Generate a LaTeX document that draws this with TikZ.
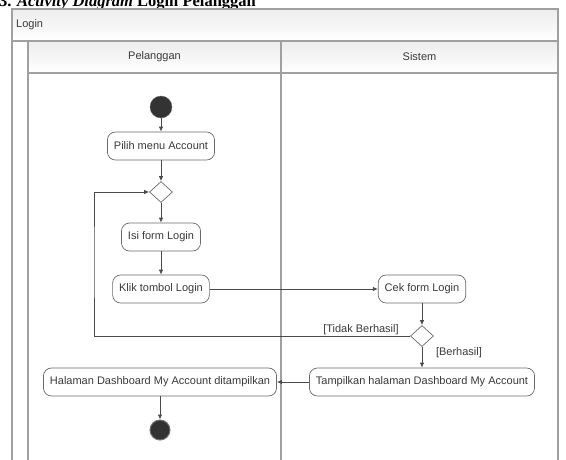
\documentclass[tikz,border=0pt]{standalone}
\usepackage{fontspec}
\newfontfamily\uifont{Liberation Sans}
\newfontfamily\capfont{Liberation Serif}
\usetikzlibrary{arrows.meta,shapes.geometric}

\definecolor{frameline}{HTML}{A0A0A0}
\definecolor{flowline}{HTML}{4A4A4A}
\definecolor{boxline}{HTML}{6A6A6A}
\definecolor{uitext}{HTML}{3A3A3A}
\definecolor{headfill}{HTML}{EDEDED}

\tikzset{
  frame/.style={draw=frameline, line width=1.1pt},
  band/.style={frame, top color=headfill, bottom color=white},
  action/.style={draw=boxline, line width=0.7pt, rounded corners=8pt, fill=white,
    font=\uifont\fontsize{11}{12}\selectfont, text=uitext,
    inner xsep=6.5pt, inner ysep=0pt, minimum height=28pt},
  decision/.style={draw=boxline, line width=0.7pt, diamond, fill=white,
    minimum width=23pt, minimum height=21pt, inner sep=0pt},
  startnode/.style={circle, fill=black!80, draw=black!60, minimum size=22pt, inner sep=0pt},
  endnode/.style={circle, fill=black!80, draw=black!55, line width=1pt, minimum size=20pt, inner sep=0pt},
  flow/.style={draw=flowline, line width=0.8pt, -{Latex[length=5pt,width=4.5pt]}},
  guard/.style={font=\uifont\fontsize{11}{12}\selectfont, text=uitext, inner sep=0pt},
  lanetitle/.style={font=\uifont\fontsize{11}{12}\selectfont, text=uitext, inner sep=0pt}
}

\begin{document}
\begin{tikzpicture}[x=1pt,y=-1pt]
\useasboundingbox (0,0) rectangle (566,459);
\clip (0,0) rectangle (566,459);

% caption above the frame (its upper part runs off the page)
\node[anchor=base west, inner sep=0pt, font=\capfont\bfseries\fontsize{16.5}{18}\selectfont]
  (caption) at (-1,6.5) {3. \textit{Activity Diagram} Login Pelanggan};

% activity frame with its two swimlanes
\path[band] (12,9) rectangle (558,41);
\node[anchor=west, font=\uifont\fontsize{11}{12}\selectfont, text=uitext, inner sep=0pt]
  (frametitle) at (16,25) {Login};
\path[frame, fill=white] (12,41) rectangle (28,470);
\path[band] (28,41) rectangle (281,73);
\path[band] (281,41) rectangle (558,73);
\path[frame] (28,73) rectangle (281,470);
\path[frame] (281,73) rectangle (558,470);
\node[lanetitle] (lane1) at (154.5,57) {Pelanggan};
\node[lanetitle] (lane2) at (419.5,57) {Sistem};

% activity nodes
\node[startnode] (start) at (161,107) {};
\node[action] (pilih) at (161,146) {Pilih menu Account};
\node[decision] (d1) at (161,192) {};
\node[action] (isi) at (161,237) {Isi form Login};
\node[action] (klik) at (161,289) {Klik tombol Login};
\node[action] (cek) at (422,289) {Cek form Login};
\node[decision] (d2) at (422,336) {};
\node[action] (tampil) at (422,382) {Tampilkan halaman Dashboard My Account};
\node[action] (halaman) at (160,382) {Halaman Dashboard My Account ditampilkan};
\node[endnode] (stop) at (160,430) {};

% guards on the decision branches
\node[guard] (gagal) at (361,330) {[Tidak Berhasil]};
\node[guard] (berhasil) at (459,353) {[Berhasil]};

% control flow
\coordinate (loopx) at (94,260);
\draw[flow] (start) -- (pilih);
\draw[flow] (pilih) -- (d1);
\draw[flow] (d1) -- (isi);
\draw[flow] (isi) -- (klik);
\draw[flow] (klik) -- (cek);
\draw[flow] (cek) -- (d2);
\draw[flow] (d2) -- (tampil);
\draw[flow] (d2.west) -| (loopx) |- (d1.west);
\draw[flow] (tampil) -- (halaman);
\draw[flow] (halaman) -- (stop);
\end{tikzpicture}
\end{document}
